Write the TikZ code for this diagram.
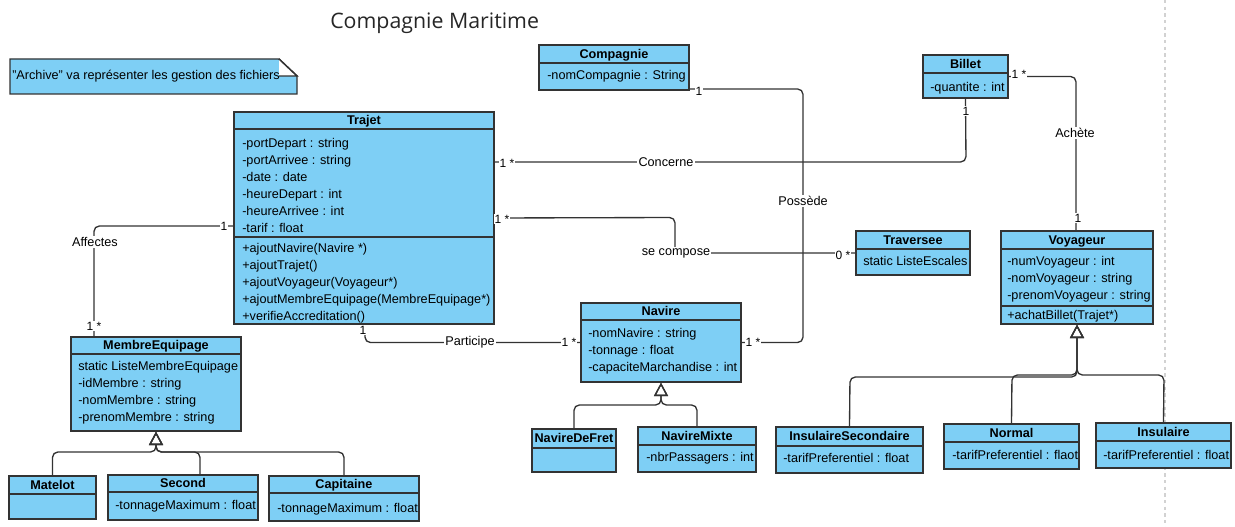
\documentclass[tikz,border=0pt]{standalone}
\usepackage{fontspec}
\setmainfont{Liberation Sans}
\newfontfamily\titlefont{Open Sans}
\usetikzlibrary{fit,arrows.meta}
\definecolor{clsfill}{RGB}{126,207,245}
\definecolor{edgec}{RGB}{51,51,51}
\tikzset{
 cls/.style={draw=edgec, fill=clsfill, line width=1.1pt, inner sep=0pt, rectangle},
 clsline/.style={draw=edgec, line width=1.1pt},
 clstitle/.style={font=\fontsize{9.5}{11}\selectfont\bfseries, inner sep=0pt, text height=7pt, text depth=2pt, yshift=-0.6pt},
 attr/.style={font=\fontsize{9.5}{11}\selectfont, anchor=west, inner sep=0pt, text height=7pt, text depth=2pt, yshift=-0.8pt},
 assoc/.style={draw=edgec, line width=1pt, rounded corners=4pt},
 gen/.style={assoc, -{Triangle[open, length=10pt, width=10.5pt, line width=1pt]}},
 lbl/.style={font=\fontsize{9.5}{11}\selectfont, fill=white, inner sep=1pt},
 mult/.style={font=\fontsize{9}{10}\selectfont, fill=white, inner sep=0.6pt},
}
\newcommand\umlbox[7]{%
 \node[cls, fit={(#2,#3) (#4,#5)}] (#1) {};
 \draw[clsline] (#2,#6) -- (#4,#6);
 \node[clstitle] (#1-t) at ({(#2+#4)/2},{(#3+#6)/2}) {#7};
}
\begin{document}
\begin{tikzpicture}[x=0.75pt,y=-0.75pt]
\useasboundingbox (0,0) rectangle (1235,527);
% page break line
\draw[gray!35, line width=0.8pt, dash pattern=on 2.5pt off 2.5pt] (1165,0) -- (1165,527);
% title
\node[font=\titlefont\fontsize{16}{19}\selectfont, text=black!85, anchor=west, inner sep=0pt] (title) at (330,23) {Compagnie Maritime};
% note
\path[cls] (10,59) -- (279,59) -- (297,76) -- (297,94) -- (10,94) -- cycle;
\fill[white] (279,59) -- (297,76) -- (279,76) -- cycle;
\draw[clsline] (279,59) -- (297,76) -- (279,76);
\node[attr] (note) at (12,75) {"Archive" va représenter les gestion des fichiers};

% classes
\umlbox{compagnie}{539}{45}{689}{90}{63}{Compagnie}
\node[attr] (co-a1) at (547,75) {-nomCompagnie : String};

\umlbox{billet}{923}{55}{1008}{98}{73}{Billet}
\node[attr] (bi-a1) at (930,87) {-quantite : int};

\umlbox{trajet}{234}{112}{494}{324}{129}{Trajet}
\draw[clsline] (234,237) -- (494,237);
\node[attr] (tr-a1) at (242,143) {-portDepart : string};
\node[attr] (tr-a2) at (242,160) {-portArrivee : string};
\node[attr] (tr-a3) at (242,177) {-date : date};
\node[attr] (tr-a4) at (242,194) {-heureDepart : int};
\node[attr] (tr-a5) at (242,211) {-heureArrivee : int};
\node[attr] (tr-a6) at (242,228) {-tarif : float};
\node[attr] (tr-m1) at (242,248) {+ajoutNavire(Navire *)};
\node[attr] (tr-m2) at (242,265) {+ajoutTrajet()};
\node[attr] (tr-m3) at (242,282) {+ajoutVoyageur(Voyageur*)};
\node[attr] (tr-m4) at (242,299) {+ajoutMembreEquipage(MembreEquipage*)};
\node[attr] (tr-m5) at (242,316) {+verifieAccreditation()};

\umlbox{traversee}{856}{231}{970}{275}{249}{Traversee}
\node[attr] (tv-a1) at (863,261) {static ListeEscales};

\umlbox{voyageur}{1001}{231}{1153}{324}{249}{Voyageur}
\draw[clsline] (1001,306) -- (1153,306);
\node[attr] (vo-a1) at (1007,261) {-numVoyageur : int};
\node[attr] (vo-a2) at (1007,278) {-nomVoyageur : string};
\node[attr] (vo-a3) at (1007,295) {-prenomVoyageur : string};
\node[attr] (vo-m1) at (1007,315) {+achatBillet(Trajet*)};

\umlbox{navire}{581}{303}{741}{382}{320}{Navire}
\node[attr] (na-a1) at (588,333) {-nomNavire : string};
\node[attr] (na-a2) at (588,350) {-tonnage : float};
\node[attr] (na-a3) at (588,367) {-capaciteMarchandise : int};

\umlbox{fret}{532}{429}{616}{472}{448}{NavireDeFret}
\umlbox{mixte}{638}{427}{756}{472}{445}{NavireMixte}
\node[attr] (mx-a1) at (646,457) {-nbrPassagers : int};

\umlbox{inssec}{776}{427}{923}{473}{446}{InsulaireSecondaire}
\node[attr] (is-a1) at (783,458) {-tarifPreferentiel : float};
\umlbox{normal}{944}{424}{1079}{469}{442}{Normal}
\node[attr] (no-a1) at (952,455) {-tarifPreferentiel : flaot};
\umlbox{insulaire}{1096}{423}{1231}{468}{441}{Insulaire}
\node[attr] (in-a1) at (1103,455) {-tarifPreferentiel : float};

\umlbox{membre}{71}{337}{241}{431}{354}{MembreEquipage}
\node[attr] (me-a1) at (78,366) {static ListeMembreEquipage};
\node[attr] (me-a2) at (78,383) {-idMembre : string};
\node[attr] (me-a3) at (78,400) {-nomMembre : string};
\node[attr] (me-a4) at (78,417) {-prenomMembre : string};

\umlbox{matelot}{9}{476}{96}{519}{494}{Matelot}
\umlbox{second}{108}{475}{258}{520}{492}{Second}
\node[attr] (se-a1) at (115,505) {-tonnageMaximum : float};
\umlbox{capitaine}{269}{476}{419}{521}{493}{Capitaine}
\node[attr] (ca-a1) at (277,508) {-tonnageMaximum : float};

% associations
\draw[assoc] (trajet.east |- 0,162) -- (966,162) -- (billet.south);
\draw[assoc] (trajet.east) -- (675,217.5) -- (675,253) -- (traversee.west);
\draw[assoc] (compagnie.south east |- 0,89) -- (803,89) -- (803,342.5) -- (navire.east);
\draw[assoc] (billet.east) -- (1076,76.5) -- (voyageur.north -| 1076,0);
\draw[assoc] (trajet.west |- 0,226) -- (94,226) -- (94,0 |- membre.north);
\draw[assoc] (365,0 |- trajet.south) -- (365,342.5) -- (navire.west);

% generalisations
\draw[gen] (fret.north) -- (574,405) -- (661,405) -- (navire.south);
\draw[gen] (mixte.north) -- (697,405) -- (661,405) -- (navire.south);
\draw[gen] (inssec.north) -- (850,377) -- (1077,377) -- (voyageur.south);
\draw[gen] (normal.north) -- (1012,375) -- (1077,375) -- (voyageur.south);
\draw[gen] (insulaire.north) -- (1164,375) -- (1077,375) -- (voyageur.south);
\draw[gen] (matelot.north) -- (52.5,452) -- (156,452) -- (membre.south);
\draw[gen] (200,0 |- second.north) -- (200,452) -- (156,452) -- (membre.south);
\draw[gen] (capitaine.north) -- (344,452) -- (156,452) -- (membre.south);

% labels
\node[lbl] (l-concerne) at (666,162) {Concerne};
\node[lbl] (l-compose) at (676,253) {se compose};
\node[lbl] (l-possede) at (803,201) {Possède};
\node[lbl] (l-achete) at (1075,133) {Achète};
\node[lbl] (l-affectes) at (95,242) {Affectes};
\node[lbl] (l-participe) at (470,342) {Participe};

% multiplicities
\node[mult] (m1) at (507,163) {1 *};
\node[mult] (m2) at (966,111) {1};
\node[mult] (m3) at (502,219) {1 *};
\node[mult] (m4) at (843,255) {0 *};
\node[mult] (m5) at (699,91) {1};
\node[mult] (m6) at (753,342) {1 *};
\node[mult] (m7) at (1019,74) {1 *};
\node[mult] (m8) at (1078,218) {1};
\node[mult] (m9) at (224,226) {1};
\node[mult] (m10) at (94,326) {1 *};
\node[mult] (m11) at (363,330) {1};
\node[mult] (m12) at (569,342) {1 *};
\end{tikzpicture}
\end{document}
